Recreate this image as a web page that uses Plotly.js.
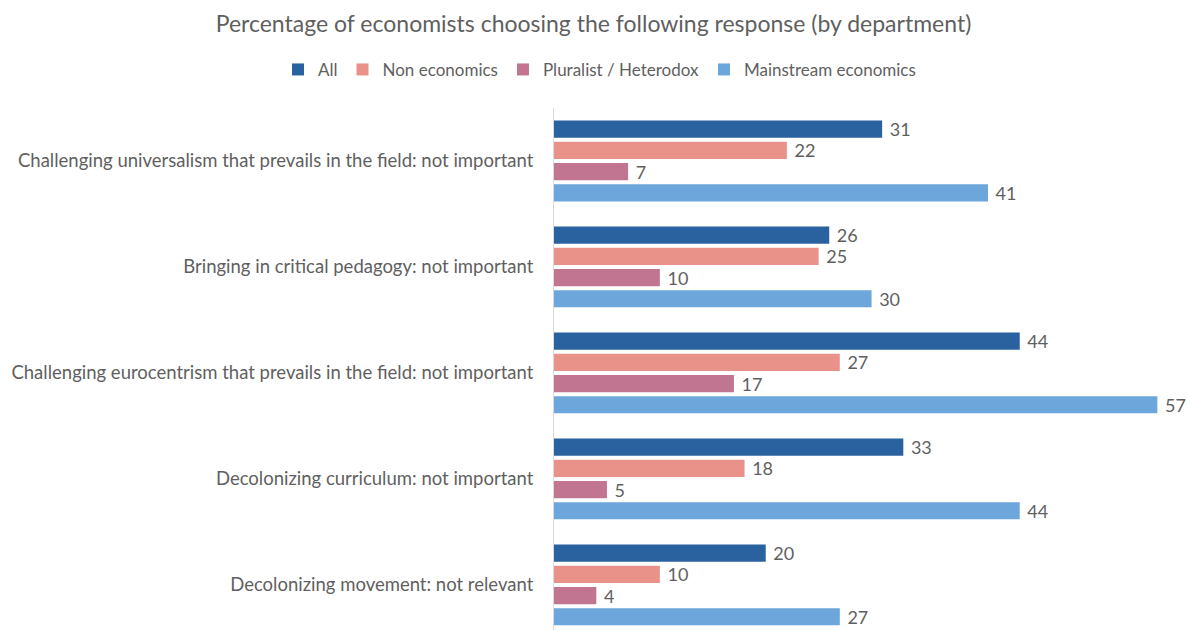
<!DOCTYPE html>
<html>
<head>
<meta charset="utf-8">
<script src="https://cdn.plot.ly/plotly-3.0.1.min.js"></script>
<style>html,body{margin:0;padding:0;background:#fff;}#chart{width:1187px;height:630px;}</style>
</head>
<body>
<div id="chart"></div>
<script>
const categories = [
  "Challenging universalism that prevails in the field: not important",
  "Bringing in critical pedagogy: not important",
  "Challenging eurocentrism that prevails in the field: not important",
  "Decolonizing curriculum: not important",
  "Decolonizing movement: not relevant"
];
const seriesNames = ["All", "Non economics", "Pluralist / Heterodox", "Mainstream economics"];
const allValues = [31, 26, 44, 33, 20];
const nonEconomics = [22, 25, 27, 18, 10];
const pluralist = [7, 10, 17, 5, 4];
const mainstream = [41, 30, 57, 44, 27];
const colors = ["#2A62A0", "#E8928A", "#C17591", "#6CA6DA"];

const seriesValues = [allValues, nonEconomics, pluralist, mainstream];
const FONT = "Lato, sans-serif";
const GREY = "#5f5f5f";

const traces = seriesValues.map((vals, i) => ({
  type: "bar",
  orientation: "h",
  name: seriesNames[i],
  y: categories,
  x: vals,
  marker: {color: colors[i]},
  texttemplate: "\u00a0%{x}",
  textposition: "outside",
  constraintext: "none",
  textfont: {family: FONT, size: 18, color: GREY},
  cliponaxis: false,
  hoverinfo: "x+name"
}));

const layout = {
  width: 1187, height: 630,
  margin: {l: 554, r: 0, t: 108, b: 0},
  paper_bgcolor: "#fff", plot_bgcolor: "#fff",
  font: {family: FONT, color: GREY},
  title: {text: "Percentage of economists choosing the following response (by department)",
          font: {family: FONT, size: 23, color: GREY}, x: 0.5, xref: "container", xanchor: "center", y: 0.975, yanchor: "top"},
  barmode: "group",
  bargap: 0.2,
  bargroupgap: 0.19,
  showlegend: true,
  legend: {orientation: "h", xref: "paper", yref: "paper", x: -0.436, xanchor: "left", y: 1.073, yanchor: "middle",
           font: {family: FONT, size: 17, color: GREY}, traceorder: "normal", itemwidth: 30},
  xaxis: {range: [0, 59.8], showgrid: false, zeroline: false, showticklabels: false, showline: false, fixedrange: true},
  yaxis: {type: "category", categoryorder: "array", categoryarray: categories,
          range: [4.425, -0.5], autorange: false, showgrid: false, zeroline: false,
          showline: true, linecolor: "#D9D9D9", linewidth: 1, ticks: "",
          ticklabelstandoff: 16,
          tickfont: {family: FONT, size: 18.5, color: GREY}, fixedrange: true}
};

Plotly.newPlot("chart", traces, layout, {displayModeBar: false, responsive: false});
</script>
</body>
</html>
